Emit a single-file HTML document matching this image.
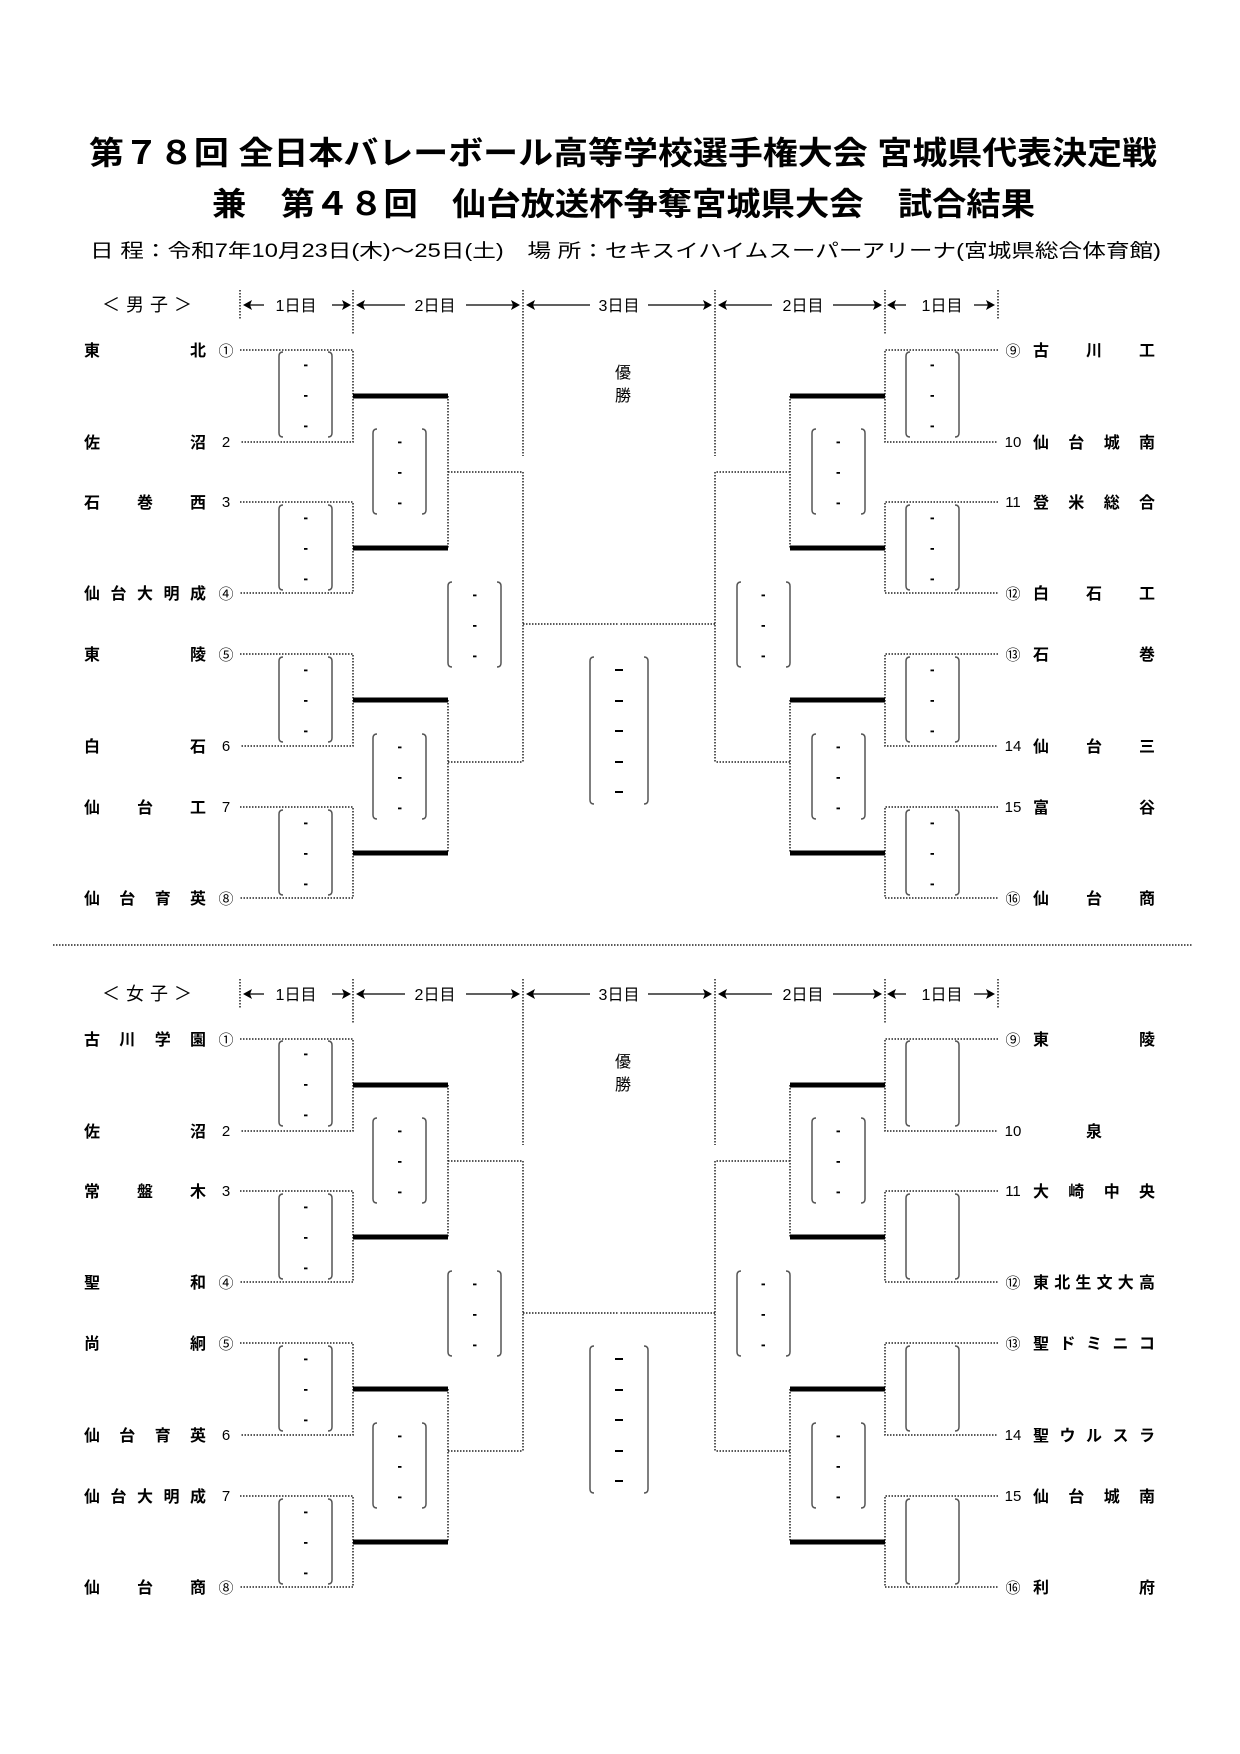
<!DOCTYPE html>
<html><head><meta charset="utf-8">
<style>
html,body{margin:0;padding:0;background:#fff;}
svg{display:block;}
text{font-family:"Liberation Sans","Noto Sans CJK JP",sans-serif;fill:#000;}
.t{font-weight:bold;font-size:32px;}
.n{font-size:16px;font-weight:bold;}
.num{font-size:15px;text-anchor:middle;}
.h{font-size:16px;}
</style></head>
<body>
<svg width="1240" height="1754" viewBox="0 0 1240 1754" xmlns="http://www.w3.org/2000/svg">
<defs>
  <g id="b1">
    <path d="M5,0 Q1,0 1,4 V81 Q1,85 5,85 M50,0 Q54,0 54,4 V81 Q54,85 50,85" fill="none" stroke="#555" stroke-width="1.5"/>
    <rect x="26" y="12.5" width="3.5" height="1.8"/><rect x="26" y="43" width="3.5" height="1.8"/><rect x="26" y="73.5" width="3.5" height="1.8"/>
  </g>
  <g id="b0">
    <path d="M5,0 Q1,0 1,4 V81 Q1,85 5,85 M50,0 Q54,0 54,4 V81 Q54,85 50,85" fill="none" stroke="#555" stroke-width="1.5"/>
  </g>
  <g id="bf">
    <path d="M5,0 Q1,0 1,4 V143 Q1,147 5,147 M55,0 Q59,0 59,4 V143 Q59,147 55,147" fill="none" stroke="#555" stroke-width="1.5"/>
    <rect x="26" y="12" width="8" height="2"/><rect x="26" y="43" width="8" height="2"/><rect x="26" y="73" width="8" height="2"/><rect x="26" y="104" width="8" height="2"/><rect x="26" y="134" width="8" height="2"/>
  </g>
  <g id="frame">
    <g fill="none" stroke="#222" stroke-width="1.5" stroke-dasharray="1.5 1.5">
      <path d="M240,350H353V442H240 M240,502H353V593H240 M240,654H353V746H240 M240,807H353V898H240"/>
      <path d="M448,396V548 M448,700V853 M448,472H523 M448,762H523 M523,472V762 M523,624H619"/>
      <path d="M240,290V320 M353,290V335 M523,290V456"/>
    </g>
    <g stroke="#000" stroke-width="5">
      <path d="M353,396H448 M353,548H448 M353,700H448 M353,853H448"/>
    </g>
    <use href="#b1" x="372" y="429"/>
    <use href="#b1" x="372" y="734"/>
    <use href="#b1" x="447" y="582"/>
    <g fill="none" stroke="#000" stroke-width="1.3">
      <path d="M248,305H264 M332,305H346"/>
      <path d="M361,305H405 M466,305H515"/>
      <path d="M531,305H590"/>
    </g>
    <g fill="#000">
      <path d="M243,305L252,300L250,305L252,310Z M351,305L342,300L344,305L342,310Z"/>
      <path d="M356,305L365,300L363,305L365,310Z M520,305L511,300L513,305L511,310Z"/>
      <path d="M526,305L535,300L533,305L535,310Z"/>
    </g>
  </g>
  <g id="r1d">
    <use href="#b1" x="278" y="352"/><use href="#b1" x="278" y="505"/><use href="#b1" x="278" y="657"/><use href="#b1" x="278" y="810"/>
  </g>
  <g id="r1e">
    <use href="#b0" x="278" y="352"/><use href="#b0" x="278" y="505"/><use href="#b0" x="278" y="657"/><use href="#b0" x="278" y="810"/>
  </g>
  <g id="sec">
    <use href="#frame"/>
    <use href="#frame" transform="translate(1238,0) scale(-1,1)"/>
    <use href="#bf" x="589" y="657"/>
  </g>
</defs>

<text class="t" x="89" y="164" textLength="1068" lengthAdjust="spacingAndGlyphs">第７８回 全日本バレーボール高等学校選手権大会 宮城県代表決定戦</text>
<text class="t" x="212" y="215" textLength="823" lengthAdjust="spacingAndGlyphs">兼　第４８回　仙台放送杯争奪宮城県大会　試合結果</text>
<text x="90" y="257" font-size="19" textLength="1071" lengthAdjust="spacingAndGlyphs">日 程：令和7年10月23日(木)～25日(土)　場 所：セキスイハイムスーパーアリーナ(宮城県総合体育館)</text>

<line x1="53" y1="945" x2="1192" y2="945" stroke="#222" stroke-width="1.5" stroke-dasharray="1.5 1.5"/>

<!-- MEN -->
<use href="#sec"/>
<use href="#r1d"/>
<use href="#r1d" transform="translate(1238,0) scale(-1,1)"/>
<g class="h">
<text x="102" y="311" textLength="90" font-size="18">＜男子＞</text>
<text x="296" y="311" text-anchor="middle">1日目</text>
<text x="435" y="311" text-anchor="middle">2日目</text>
<text x="619" y="311" text-anchor="middle">3日目</text>
<text x="803" y="311" text-anchor="middle">2日目</text>
<text x="942" y="311" text-anchor="middle">1日目</text>
<text x="623" y="378" text-anchor="middle">優</text>
<text x="623" y="401" text-anchor="middle">勝</text>
</g>
<g class="n">
<text x="84 190" y="356">東北</text>
<text x="84 190" y="448">佐沼</text>
<text x="84 137 190" y="508">石巻西</text>
<text x="84 110.5 137 163.5 190" y="599">仙台大明成</text>
<text x="84 190" y="660">東陵</text>
<text x="84 190" y="752">白石</text>
<text x="84 137 190" y="813">仙台工</text>
<text x="84 119.3 154.7 190" y="904">仙台育英</text>
<text x="1033 1086 1139" y="356">古川工</text>
<text x="1033 1068.3 1103.7 1139" y="448">仙台城南</text>
<text x="1033 1068.3 1103.7 1139" y="508">登米総合</text>
<text x="1033 1086 1139" y="599">白石工</text>
<text x="1033 1139" y="660">石巻</text>
<text x="1033 1086 1139" y="752">仙台三</text>
<text x="1033 1139" y="813">富谷</text>
<text x="1033 1086 1139" y="904">仙台商</text>
</g>
<g class="num">
<text x="226" y="356">①</text><text x="226" y="447">2</text><text x="226" y="507">3</text><text x="226" y="599">④</text>
<text x="226" y="660">⑤</text><text x="226" y="751">6</text><text x="226" y="812">7</text><text x="226" y="904">⑧</text>
<text x="1013" y="356">⑨</text><text x="1013" y="447">10</text><text x="1013" y="507">11</text><text x="1013" y="599">⑫</text>
<text x="1013" y="660">⑬</text><text x="1013" y="751">14</text><text x="1013" y="812">15</text><text x="1013" y="904">⑯</text>
</g>

<!-- WOMEN -->
<g transform="translate(0,689)">
<use href="#sec"/>
<use href="#r1d"/>
<use href="#r1e" transform="translate(1238,0) scale(-1,1)"/>
<g class="h">
<text x="102" y="311" textLength="90" font-size="18">＜女子＞</text>
<text x="296" y="311" text-anchor="middle">1日目</text>
<text x="435" y="311" text-anchor="middle">2日目</text>
<text x="619" y="311" text-anchor="middle">3日目</text>
<text x="803" y="311" text-anchor="middle">2日目</text>
<text x="942" y="311" text-anchor="middle">1日目</text>
<text x="623" y="378" text-anchor="middle">優</text>
<text x="623" y="401" text-anchor="middle">勝</text>
</g>
<g class="n">
<text x="84 119.3 154.7 190" y="356">古川学園</text>
<text x="84 190" y="448">佐沼</text>
<text x="84 137 190" y="508">常盤木</text>
<text x="84 190" y="599">聖和</text>
<text x="84 190" y="660">尚絅</text>
<text x="84 119.3 154.7 190" y="752">仙台育英</text>
<text x="84 110.5 137 163.5 190" y="813">仙台大明成</text>
<text x="84 137 190" y="904">仙台商</text>
<text x="1033 1139" y="356">東陵</text>
<text x="1086" y="448">泉</text>
<text x="1033 1068.3 1103.7 1139" y="508">大崎中央</text>
<text x="1033 1054.2 1075.4 1096.6 1117.8 1139" y="599">東北生文大高</text>
<text x="1033 1059.5 1086 1112.5 1139" y="660">聖ドミニコ</text>
<text x="1033 1059.5 1086 1112.5 1139" y="752">聖ウルスラ</text>
<text x="1033 1068.3 1103.7 1139" y="813">仙台城南</text>
<text x="1033 1139" y="904">利府</text>
</g>
<g class="num">
<text x="226" y="356">①</text><text x="226" y="447">2</text><text x="226" y="507">3</text><text x="226" y="599">④</text>
<text x="226" y="660">⑤</text><text x="226" y="751">6</text><text x="226" y="812">7</text><text x="226" y="904">⑧</text>
<text x="1013" y="356">⑨</text><text x="1013" y="447">10</text><text x="1013" y="507">11</text><text x="1013" y="599">⑫</text>
<text x="1013" y="660">⑬</text><text x="1013" y="751">14</text><text x="1013" y="812">15</text><text x="1013" y="904">⑯</text>
</g>
</g>
</svg>
</body></html>
